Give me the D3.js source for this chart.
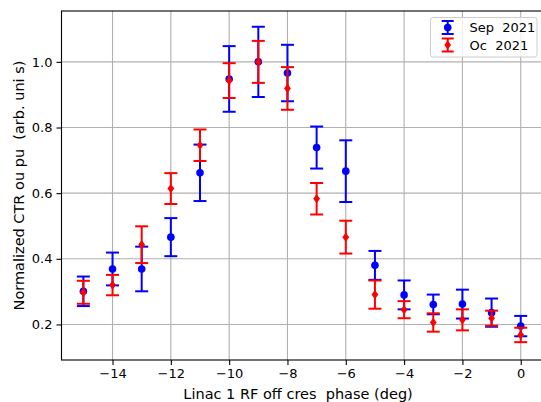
<!DOCTYPE html>
<html><head><meta charset="utf-8">
<script src="https://cdn.jsdelivr.net/npm/d3@7"></script>
<style>
body{margin:0;background:#fff;}
text{font-family:"DejaVu Sans",sans-serif;}
</style></head>
<body><svg id="c" width="541" height="402"></svg>
<script>
const phase = [-15,-14,-13,-12,-11,-10,-9,-8,-7,-6,-5,-4,-3,-2,-1,0];
const sepVal = [0.301,0.369,0.369,0.466,0.662,0.948,1.000,0.966,0.739,0.667,0.380,0.290,0.261,0.262,0.236,0.195];
const sepErr = [0.045,0.050,0.068,0.058,0.086,0.100,0.107,0.086,0.064,0.094,0.044,0.044,0.030,0.044,0.043,0.031];
const ocVal = [0.298,0.320,0.443,0.614,0.746,0.943,1.000,0.919,0.583,0.466,0.291,0.245,0.206,0.214,0.219,0.168];
const ocErr = [0.035,0.031,0.056,0.047,0.048,0.053,0.064,0.065,0.048,0.050,0.043,0.026,0.028,0.032,0.023,0.022];
const xTicks = [-14,-12,-10,-8,-6,-4,-2,0];
const yTicks = [0.2,0.4,0.6,0.8,1.0];
const seriesNames = ["Sep  2021","Oc  2021"];

const svg = d3.select("#c");
const L=61.5, R=542.6, T=11, B=360;
const x = d3.scaleLinear().domain([-15.75,0.75]).range([L,R]);
const y = d3.scaleLinear().domain([0.0917,1.155]).range([B,T]);
const fs = 13, lfs = 14.5;

// grid
const g = svg.append("g");
g.selectAll(".gx").data(xTicks).enter().append("line")
 .attr("x1",d=>x(d)).attr("x2",d=>x(d)).attr("y1",T).attr("y2",B)
 .attr("stroke","#b0b0b0").attr("stroke-width",1.1);
g.selectAll(".gy").data(yTicks).enter().append("line")
 .attr("x1",L).attr("x2",R).attr("y1",d=>y(d)).attr("y2",d=>y(d))
 .attr("stroke","#b0b0b0").attr("stroke-width",1.1);

// axes
const xAxis = d3.axisBottom(x).tickValues(xTicks).tickSize(5).tickPadding(4).tickFormat(d3.format("d"));
const yAxis = d3.axisLeft(y).tickValues(yTicks).tickSize(5).tickPadding(4).tickFormat(d3.format(".1f"));
const ax = svg.append("g").attr("transform",`translate(0,${B})`).call(xAxis);
const ay = svg.append("g").attr("transform",`translate(${L},0)`).call(yAxis);
[ax,ay].forEach(a=>{
  a.select(".domain").remove();
  a.selectAll("text").attr("font-size",fs).attr("fill","#000").attr("font-family","DejaVu Sans");
  a.selectAll("line").attr("stroke","#000").attr("stroke-width",1.1);
});
// spines
svg.append("rect").attr("x",L).attr("y",T).attr("width",R-L).attr("height",B-T)
 .attr("fill","none").attr("stroke","#000").attr("stroke-width",1.1);

function drawSeries(vals, errs, color, marker){
  const s = svg.append("g");
  const cap = 6.5;
  phase.forEach((p,i)=>{
    const cx = x(p), lo=y(vals[i]-errs[i]), hi=y(vals[i]+errs[i]);
    s.append("line").attr("x1",cx).attr("x2",cx).attr("y1",lo).attr("y2",hi)
      .attr("stroke",color).attr("stroke-width",2);
    [lo,hi].forEach(yy=>s.append("line").attr("x1",cx-cap).attr("x2",cx+cap)
      .attr("y1",yy).attr("y2",yy).attr("stroke",color).attr("stroke-width",2));
    const cy=y(vals[i]);
    if(marker==="o") s.append("circle").attr("cx",cx).attr("cy",cy).attr("r",3.8).attr("fill",color);
    else s.append("path").attr("d",`M${cx},${cy-4.6}L${cx+3.4},${cy}L${cx},${cy+4.6}L${cx-3.4},${cy}Z`).attr("fill",color);
  });
}
drawSeries(sepVal, sepErr, "#0000ff", "o");
drawSeries(ocVal, ocErr, "#ff0000", "d");

// legend
const lg = svg.append("g");
lg.append("rect").attr("x",430.5).attr("y",17.5).attr("width",106.5).attr("height",39.5).attr("rx",2.5)
 .attr("fill","#fff").attr("fill-opacity",0.8).attr("stroke","#cccccc").attr("stroke-width",1);
[["#0000ff","o"],["#ff0000","d"]].forEach((c,i)=>{
  const cy = 27.5 + i*17.5, cx=447.7;
  lg.append("line").attr("x1",cx).attr("x2",cx).attr("y1",cy-6.5).attr("y2",cy+6.5).attr("stroke",c[0]).attr("stroke-width",2);
  [cy-6.5,cy+6.5].forEach(yy=>lg.append("line").attr("x1",cx-6).attr("x2",cx+6).attr("y1",yy).attr("y2",yy).attr("stroke",c[0]).attr("stroke-width",2));
  if(c[1]==="o") lg.append("circle").attr("cx",cx).attr("cy",cy).attr("r",3.8).attr("fill",c[0]);
  else lg.append("path").attr("d",`M${cx},${cy-4.6}L${cx+3.4},${cy}L${cx},${cy+4.6}L${cx-3.4},${cy}Z`).attr("fill",c[0]);
  lg.append("text").attr("x",469.5).attr("y",cy).attr("dy","0.35em").attr("font-size",fs)
    .style("white-space","pre").text(seriesNames[i]);
});

// labels
svg.append("text").attr("x",(L+R)/2 - 4).attr("y",398.5).attr("text-anchor","middle").attr("font-size",lfs)
 .style("white-space","pre").text("Linac 1 RF off cres  phase (deg)");
svg.append("text").attr("transform",`translate(23.5,${(T+B)/2}) rotate(-90)`).attr("text-anchor","middle")
 .attr("font-size",lfs).style("white-space","pre").text("Normalized CTR ou pu  (arb. uni s)");
</script></body></html>
